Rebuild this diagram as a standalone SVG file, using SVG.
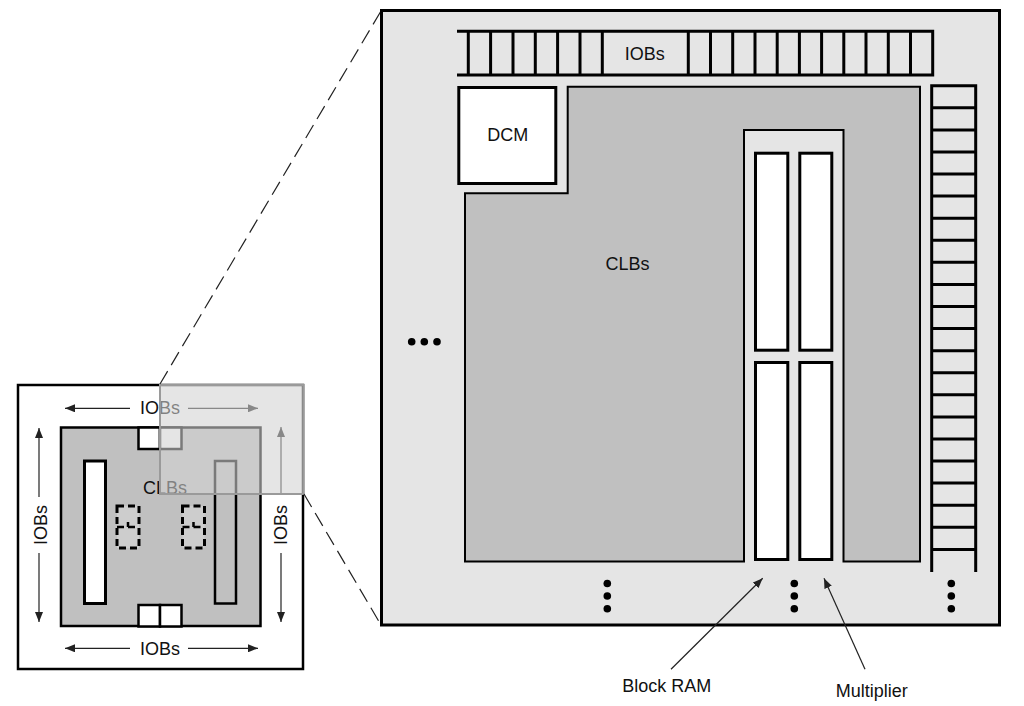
<svg xmlns="http://www.w3.org/2000/svg" width="1024" height="706" viewBox="0 0 1024 706">
<style>
text{font-family:"Liberation Sans",Arial,sans-serif;fill:#111;}
.lbl{font-size:18px;text-anchor:middle;}
.thick{fill:none;stroke:#000;stroke-width:3;}
.clb{fill:#c0c0c0;stroke:#000;stroke-width:2;}
.white{fill:#fff;stroke:#000;stroke-width:3;}
.dot{fill:#000;}
.arr{stroke:#222;stroke-width:1.2;fill:none;}
.dash{stroke:#222;stroke-width:1.2;stroke-dasharray:15 7;fill:none;}
.dbox{fill:#cdcdcd;stroke:#000;stroke-width:3;stroke-dasharray:7 4;}
</style>
<defs>
<marker id="ah" markerWidth="10" markerHeight="8" refX="10" refY="4" orient="auto" markerUnits="userSpaceOnUse">
<path d="M0,0 L10,4 L0,8 Z" fill="#222"/>
</marker>
</defs>
<rect width="1024" height="706" fill="#fff"/>

<g id="small-chip">
<rect x="18" y="385" width="285" height="284" fill="#fff" stroke="#000" stroke-width="2.5"/>
<rect x="61" y="427.5" width="199.5" height="198.5" fill="#c0c0c0" stroke="#000" stroke-width="2.5"/>
<rect x="138.5" y="427.5" width="21.5" height="21.5" fill="#fff" stroke="#000" stroke-width="2.5"/>
<rect x="160" y="427.5" width="21.5" height="21.5" fill="#fff" stroke="#000" stroke-width="2.5"/>
<rect x="138.5" y="605" width="21.5" height="21.5" fill="#fff" stroke="#000" stroke-width="2.5"/>
<rect x="160" y="605" width="21.5" height="21.5" fill="#fff" stroke="#000" stroke-width="2.5"/>
<rect x="84.5" y="461" width="21" height="142.5" fill="#fff" stroke="#000" stroke-width="3"/>
<rect x="215" y="461" width="21" height="142.5" fill="#c0c0c0" stroke="#000" stroke-width="2.5"/>
<rect class="dbox" x="117" y="506" width="22" height="42"/>
<path d="M117,527 H139 M128,522 V527" fill="none" stroke="#000" stroke-width="2.5" stroke-dasharray="7 4"/>
<rect class="dbox" x="182.5" y="506" width="22" height="42"/>
<path d="M182.5,527 H204.5 M193.5,522 V527" fill="none" stroke="#000" stroke-width="2.5" stroke-dasharray="7 4"/>
<text class="lbl" x="165" y="494">CLBs</text>
<text class="lbl" x="160" y="414">IOBs</text>
<text class="lbl" x="160" y="655">IOBs</text>
<text class="lbl" transform="translate(46.7,525) rotate(-90)">IOBs</text>
<text class="lbl" transform="translate(287,525) rotate(-90)">IOBs</text>
<g class="arr">
<line x1="130" y1="408.3" x2="65" y2="408.3" marker-end="url(#ah)"/>
<line x1="188" y1="408.3" x2="258" y2="408.3" marker-end="url(#ah)"/>
<line x1="130" y1="648.3" x2="65" y2="648.3" marker-end="url(#ah)"/>
<line x1="188" y1="648.3" x2="258" y2="648.3" marker-end="url(#ah)"/>
<line x1="39" y1="497" x2="39" y2="428" marker-end="url(#ah)"/>
<line x1="39" y1="553" x2="39" y2="622" marker-end="url(#ah)"/>
<line x1="281" y1="493" x2="281" y2="427" marker-end="url(#ah)"/>
<line x1="281" y1="553" x2="281" y2="622" marker-end="url(#ah)"/>
</g>
<rect x="160" y="385" width="143.5" height="109" fill="#d2d2d2" fill-opacity="0.58" stroke="#9a9a9a" stroke-width="2"/>
</g>

<g id="zoom-lines">
<line class="dash" x1="160" y1="384" x2="381" y2="11"/>
<line class="dash" x1="304" y1="494" x2="381" y2="625"/>
</g>

<g id="big-chip">
<rect x="381.5" y="10.5" width="618" height="614.5" fill="#e5e5e5" stroke="#000" stroke-width="3"/>
</g>

<g id="clbs">
<polygon class="clb" points="567.7,86.7 920,86.7 920,561.5 843.5,561.5 843.5,130 744,130 744,561.5 465,561.5 465,193.3 567.7,193.3"/>
<text class="lbl" x="627.5" y="270">CLBs</text>
</g>

<g id="top-iobs">
<path class="thick" d="M457,31.3 H934.2 M457,75 H934.2 M468.3,31.3 V75 M490.6,31.3 V75 M513,31.3 V75 M535.3,31.3 V75 M557.6,31.3 V75 M580,31.3 V75 M602.3,31.3 V75 M688.3,31.3 V75 M710.5,31.3 V75 M732.7,31.3 V75 M755,31.3 V75 M777.2,31.3 V75 M799.4,31.3 V75 M821.6,31.3 V75 M843.8,31.3 V75 M866,31.3 V75 M888.3,31.3 V75 M910.5,31.3 V75 M932.7,29.8 V76.5"/>
<text class="lbl" x="644.7" y="60">IOBs</text>
</g>

<g id="right-iobs">
<path class="thick" d="M931.7,84.2 V572 M975.7,84.2 V572 M931.7,85.7 H975.7 M931.7,107.8 H975.7 M931.7,129.9 H975.7 M931.7,151.9 H975.7 M931.7,174 H975.7 M931.7,196.1 H975.7 M931.7,218.2 H975.7 M931.7,240.3 H975.7 M931.7,262.3 H975.7 M931.7,284.4 H975.7 M931.7,306.5 H975.7 M931.7,328.6 H975.7 M931.7,350.7 H975.7 M931.7,372.7 H975.7 M931.7,394.8 H975.7 M931.7,416.9 H975.7 M931.7,439 H975.7 M931.7,461.1 H975.7 M931.7,483.1 H975.7 M931.7,505.2 H975.7 M931.7,527.3 H975.7 M931.7,549.4 H975.7"/>
</g>

<g id="dcm">
<rect class="white" x="458.8" y="87.5" width="97" height="96"/>
<text class="lbl" x="507.7" y="141">DCM</text>
</g>

<g id="block-ram">
<rect class="white" x="755.5" y="153.2" width="32.3" height="197"/>
<rect class="white" x="755.5" y="362.5" width="32.3" height="197"/>
</g>

<g id="multiplier">
<rect class="white" x="799.8" y="153.2" width="32" height="197"/>
<rect class="white" x="799.8" y="362.5" width="32" height="197"/>
</g>

<g id="ellipses">
<circle class="dot" cx="411.7" cy="341.7" r="3.8"/>
<circle class="dot" cx="424.3" cy="341.7" r="3.8"/>
<circle class="dot" cx="437" cy="341.7" r="3.8"/>
<circle class="dot" cx="607.3" cy="583.5" r="3.8"/>
<circle class="dot" cx="607.3" cy="596" r="3.8"/>
<circle class="dot" cx="607.3" cy="608.7" r="3.8"/>
<circle class="dot" cx="794.3" cy="583.5" r="3.8"/>
<circle class="dot" cx="794.3" cy="596" r="3.8"/>
<circle class="dot" cx="794.3" cy="608.7" r="3.8"/>
<circle class="dot" cx="951.3" cy="583.5" r="3.8"/>
<circle class="dot" cx="951.3" cy="596" r="3.8"/>
<circle class="dot" cx="951.3" cy="608.7" r="3.8"/>
</g>

<g id="connectors">
<line class="arr" x1="671" y1="669.3" x2="762.7" y2="578.3" marker-end="url(#ah)"/>
<line class="arr" x1="865" y1="669.3" x2="824" y2="578.3" marker-end="url(#ah)"/>
</g>

<g id="labels">
<text class="lbl" x="666.7" y="692">Block RAM</text>
<text class="lbl" x="871.7" y="697">Multiplier</text>
</g>
</svg>
